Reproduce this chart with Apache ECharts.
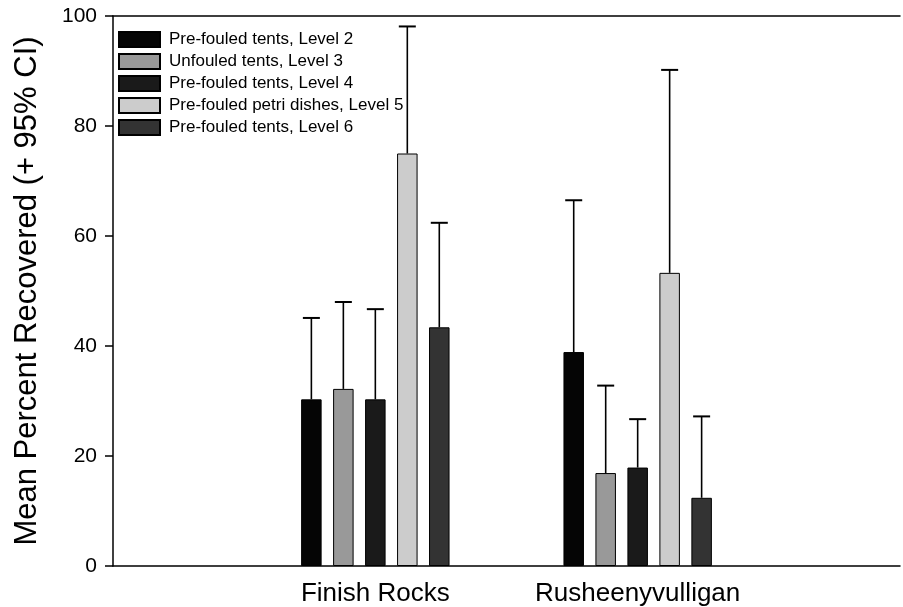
<!DOCTYPE html>
<html>
<head>
<meta charset="utf-8">
<script src="https://cdn.jsdelivr.net/npm/echarts@6/dist/echarts.min.js"></script>
<style>
html,body{margin:0;padding:0;background:#fff;}
#chart{width:903px;height:607px;}
</style>
</head>
<body>
<div id="chart"></div>
<script>
// Category positions (padded with empty slots at both ends)
var categories = ['', 'Finish Rocks', 'Rusheenyvulligan', ''];
var seriesNames = [
  'Pre-fouled tents, Level 2',
  'Unfouled tents, Level 3',
  'Pre-fouled tents, Level 4',
  'Pre-fouled petri dishes, Level 5',
  'Pre-fouled tents, Level 6'
];
var seriesColors = ['#050505', '#999999', '#1a1a1a', '#cccccc', '#333333'];
// Means: [Finish Rocks, Rusheenyvulligan]
var meanLevel2 = [30.3, 38.9];
var meanLevel3 = [32.2, 16.9];
var meanLevel4 = [30.3, 17.9];
var meanLevel5 = [75.0, 53.3];
var meanLevel6 = [43.4, 12.4];
// Upper 95% CI: [Finish Rocks, Rusheenyvulligan]
var upperLevel2 = [45.1, 66.5];
var upperLevel3 = [48.0, 32.8];
var upperLevel4 = [46.7, 26.7];
var upperLevel5 = [98.1, 90.2];
var upperLevel6 = [62.4, 27.2];
var yTicks = [0, 20, 40, 60, 80, 100];

var means = [meanLevel2, meanLevel3, meanLevel4, meanLevel5, meanLevel6];
var uppers = [upperLevel2, upperLevel3, upperLevel4, upperLevel5, upperLevel6];

var BAR_W = 20.5, GAP = 0.56;
function pad(arr) { return [null].concat(arr).concat([null]); }

var series = [];
means.forEach(function (m, i) {
  series.push({
    name: seriesNames[i],
    type: 'bar',
    data: pad(m),
    barWidth: BAR_W,
    barGap: (GAP * 100) + '%',
    itemStyle: { color: seriesColors[i], borderColor: '#000', borderWidth: 1 },
    animation: false,
    z: 2
  });
});
means.forEach(function (m, i) {
  var data = [];
  m.forEach(function (v, k) { data.push([k + 1, v, uppers[i][k]]); });
  series.push({
    type: 'custom',
    name: 'err' + i,
    data: data,
    z: 3,
    animation: false,
    renderItem: function (params, api) {
      var base = api.coord([api.value(0), api.value(1)]);
      var top = api.coord([api.value(0), api.value(2)]);
      var step = BAR_W * (1 + GAP);
      var x = base[0] + (i - 2) * step;
      var half = 8.5;
      return {
        type: 'group',
        children: [
          { type: 'line', shape: { x1: x, y1: base[1], x2: x, y2: top[1] },
            style: { stroke: '#000', lineWidth: 1.6 } },
          { type: 'line', shape: { x1: x - half, y1: top[1], x2: x + half, y2: top[1] },
            style: { stroke: '#000', lineWidth: 2 } }
        ]
      };
    }
  });
});

var chart = echarts.init(document.getElementById('chart'), null, { renderer: 'canvas' });
chart.setOption({
  backgroundColor: '#fff',
  animation: false,
  textStyle: { fontFamily: 'Liberation Sans, Arial, sans-serif' },
  grid: { left: 113, right: -4, top: 16, bottom: 41, containLabel: false },
  legend: {
    data: seriesNames,
    orient: 'vertical',
    left: 118,
    top: 31,
    itemWidth: 41,
    itemHeight: 15,
    itemGap: 5,
    icon: 'rect',
    padding: 0,
    textStyle: { fontSize: 17, color: '#000', padding: [0, 0, 0, 4],
                 fontFamily: 'Liberation Sans, Arial, sans-serif' }
  },
  xAxis: [{
    type: 'category',
    data: categories,
    boundaryGap: false,
    axisLine: { lineStyle: { color: '#000', width: 1.5 } },
    axisTick: { show: false },
    axisLabel: { fontSize: 26, color: '#000', margin: 15, interval: 0 },
    splitLine: { show: false }
  }, {
    type: 'category',
    data: categories,
    boundaryGap: false,
    position: 'top',
    axisLine: { lineStyle: { color: '#000', width: 1.5 } },
    axisTick: { show: false },
    axisLabel: { show: false },
    splitLine: { show: false }
  }],
  yAxis: {
    type: 'value',
    min: yTicks[0],
    max: yTicks[yTicks.length - 1],
    interval: 20,
    name: 'Mean Percent Recovered (+ 95% CI)',
    nameLocation: 'middle',
    nameGap: 70,
    nameTextStyle: { fontSize: 31, color: '#000' },
    axisLine: { show: true, lineStyle: { color: '#000', width: 1.5 } },
    axisTick: { show: true, inside: false, length: 8, lineStyle: { color: '#000', width: 1.5 } },
    axisLabel: { fontSize: 21, color: '#000', margin: 16 },
    splitLine: { show: false }
  },
  series: series
});
</script>
</body>
</html>
